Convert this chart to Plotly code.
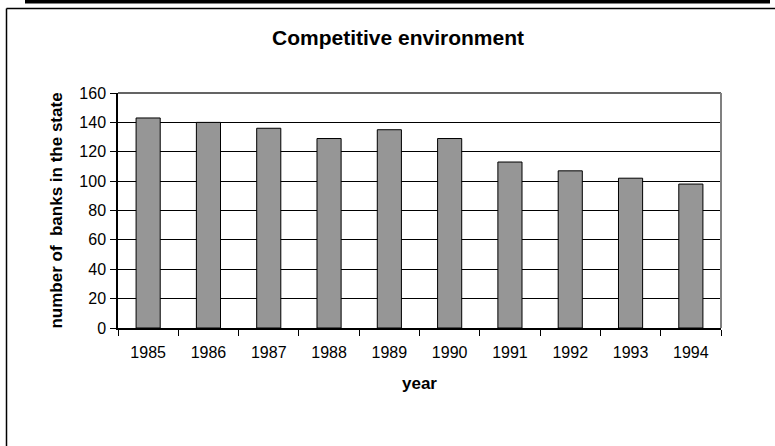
import plotly.graph_objects as go

years = ["1985", "1986", "1987", "1988", "1989", "1990", "1991", "1992", "1993", "1994"]
banks = [143, 140, 136, 129, 135, 129, 113, 107, 102, 98]
y_ticks = [0, 20, 40, 60, 80, 100, 120, 140, 160]

W, H = 775, 446
L, R, T, B = 118, 721, 93, 328  # plot area in pixels


def px(xp):
    return (xp - L) / (R - L)


def py(yp):
    return (B - yp) / (B - T)


fig = go.Figure()
fig.add_trace(go.Bar(
    x=years, y=banks,
    marker=dict(color="#969696", line=dict(color="#000000", width=1)),
    width=0.4,
    hoverinfo="x+y",
))

font_family = "Liberation Sans, Arial, sans-serif"

shapes = [
    # thick black bar at top
    dict(type="rect", xref="paper", yref="paper", x0=px(25), x1=px(770), y0=py(0), y1=py(3.5),
         fillcolor="#000000", line=dict(width=0), layer="above"),
    # thin frame top line
    dict(type="line", xref="paper", yref="paper", x0=px(6.5), x1=px(776), y0=py(8.5), y1=py(8.5),
         line=dict(color="#000000", width=1.5)),
    # thin frame left line
    dict(type="line", xref="paper", yref="paper", x0=px(6.5), x1=px(6.5), y0=py(8.5), y1=py(447),
         line=dict(color="#000000", width=1.5)),
    # plot area top border
    dict(type="line", xref="paper", yref="paper", x0=0, x1=1, y0=1, y1=1,
         line=dict(color="#303030", width=1.5)),
    # plot area right border
    dict(type="line", xref="paper", yref="paper", x0=1, x1=1, y0=0, y1=1,
         line=dict(color="#808080", width=2)),
]

fig.update_layout(
    width=W, height=H,
    margin=dict(l=L, r=W - R, t=T, b=H - B, pad=0),
    paper_bgcolor="#ffffff",
    plot_bgcolor="#ffffff",
    showlegend=False,
    font=dict(family=font_family, color="#000000", size=16),
    title=dict(
        text="<b>Competitive environment</b>",
        font=dict(size=21, family=font_family, color="#000000"),
        x=398 / W, xref="container", xanchor="center",
        y=1 - 38 / H, yref="container", yanchor="middle",
    ),
    xaxis=dict(
        type="category",
        showline=True, linecolor="#000000", linewidth=1.5,
        ticks="outside", ticklen=6, tickcolor="#000000", tickwidth=1,
        tickson="boundaries",
        showgrid=False,
        tickfont=dict(size=16),
        ticklabelstandoff=9,
        title=dict(text="<b>year</b>", font=dict(size=17), standoff=17),
    ),
    yaxis=dict(
        range=[0, 160],
        tickvals=y_ticks,
        showline=True, linecolor="#000000", linewidth=1.5,
        ticks="outside", ticklen=6, tickcolor="#000000", tickwidth=1,
        showgrid=True, gridcolor="#000000", gridwidth=1,
        zeroline=False,
        tickfont=dict(size=16),
        ticklabelstandoff=1,
        title=dict(text="<b>number of\u00a0 banks in the state</b>", font=dict(size=17), standoff=12),
    ),
    shapes=shapes,
)

fig.write_html(
    "out.html",
    config={"displayModeBar": False},
    post_script="document.body.style.margin='0';document.body.style.overflow='hidden';",
)
